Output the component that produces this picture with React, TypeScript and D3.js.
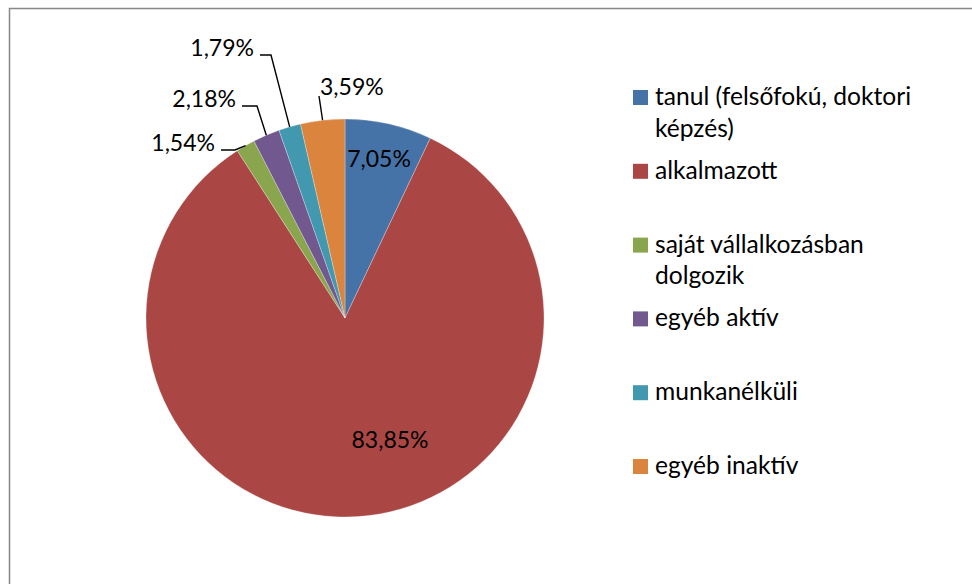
import React from "react";
import * as d3 from "d3";

const categories = [
  "tanul (felsőfokú, doktori képzés)",
  "alkalmazott",
  "saját vállalkozásban dolgozik",
  "egyéb aktív",
  "munkanélküli",
  "egyéb inaktív",
];
const values = [7.05, 83.85, 1.54, 2.18, 1.79, 3.59];
const valueLabels = ["7,05%", "83,85%", "1,54%", "2,18%", "1,79%", "3,59%"];
const legendLines = [
  ["tanul (felsőfokú, doktori", "képzés)"],
  ["alkalmazott"],
  ["saját vállalkozásban", "dolgozik"],
  ["egyéb aktív"],
  ["munkanélküli"],
  ["egyéb inaktív"],
];
const colors = ["#4572A7", "#AA4643", "#89A54E", "#71588F", "#4198AF", "#DB843D"];

const W = 972;
const H = 584;
const CX = 345;
const CY = 318;
const R = 199;
const FONT = "Lato, 'Open Sans', sans-serif";

// label layout: inside labels (center, baseline) or outside labels (text end x, baseline, elbow x)
type Lab =
  | { kind: "in"; x: number; y: number }
  | { kind: "out"; x: number; y: number; elbow: number | null; anchor: string };
const labelLayout: Lab[] = [
  { kind: "in", x: 379, y: 167 },
  { kind: "in", x: 390, y: 448 },
  { kind: "out", x: 215, y: 151, elbow: 235, anchor: "end" },
  { kind: "out", x: 236, y: 107, elbow: 257, anchor: "end" },
  { kind: "out", x: 254, y: 56, elbow: 271, anchor: "end" },
  { kind: "out", x: 320, y: 95, elbow: null, anchor: "start" },
];

export default function App() {
  const pie = d3.pie<number>().sort(null).value((d) => d)(values);
  const arc = d3.arc<d3.PieArcDatum<number>>().innerRadius(0).outerRadius(R);
  const edge = (a: d3.PieArcDatum<number>) => {
    const m = (a.startAngle + a.endAngle) / 2;
    return [CX + R * Math.sin(m), CY - R * Math.cos(m)];
  };
  const legendY = d3.scaleLinear().domain([0, 1]).range([97.5, 171.3]);

  return (
    <svg
      width={W}
      height={H}
      style={{ position: "absolute", left: 0, top: 0, background: "#fff" }}
      fontFamily={FONT}
    >
      <rect x={0} y={0} width={W} height={H} fill="#fff" />
      <rect x={9.5} y={8.5} width={W + 20} height={H + 20} fill="none" stroke="#868686" strokeWidth={1.5} />
      <g transform={`translate(${CX},${CY})`}>
        {pie.map((a, i) => (
          <path key={i} d={arc(a) || ""} fill={colors[i]} stroke="#ffffff" strokeOpacity={0.35} strokeWidth={0.8} />
        ))}
      </g>
      {pie.map((a, i) => {
        const L = labelLayout[i];
        if (L.kind === "in") {
          return (
            <text key={i} x={L.x} y={L.y} textAnchor="middle" fontSize={23} fill="#000">
              {valueLabels[i]}
            </text>
          );
        }
        const [ex, ey] = edge(a);
        const pts =
          L.elbow === null
            ? [
                [L.x - 1, L.y + 1],
                [ex, ey],
              ]
            : [
                [L.x + 6, L.y - 1],
                [L.elbow, L.y - 1],
                [ex, ey],
              ];
        return (
          <g key={i}>
            <path d={d3.line()(pts as [number, number][]) || ""} fill="none" stroke="#000" strokeWidth={1.4} />
            <text x={L.x} y={L.y} textAnchor={L.anchor} fontSize={23} fill="#000">
              {valueLabels[i]}
            </text>
          </g>
        );
      })}
      <g>
        {categories.map((c, i) => {
          const y = legendY(i);
          return (
            <g key={c}>
              <rect x={633} y={y - 7.5} width={15} height={15} fill={colors[i]} />
              {legendLines[i].map((ln, j) => (
                <text key={j} x={655} y={y + 7.5 + j * 31.5} fontSize={24.6} fill="#000">
                  {ln}
                </text>
              ))}
            </g>
          );
        })}
      </g>
    </svg>
  );
}
